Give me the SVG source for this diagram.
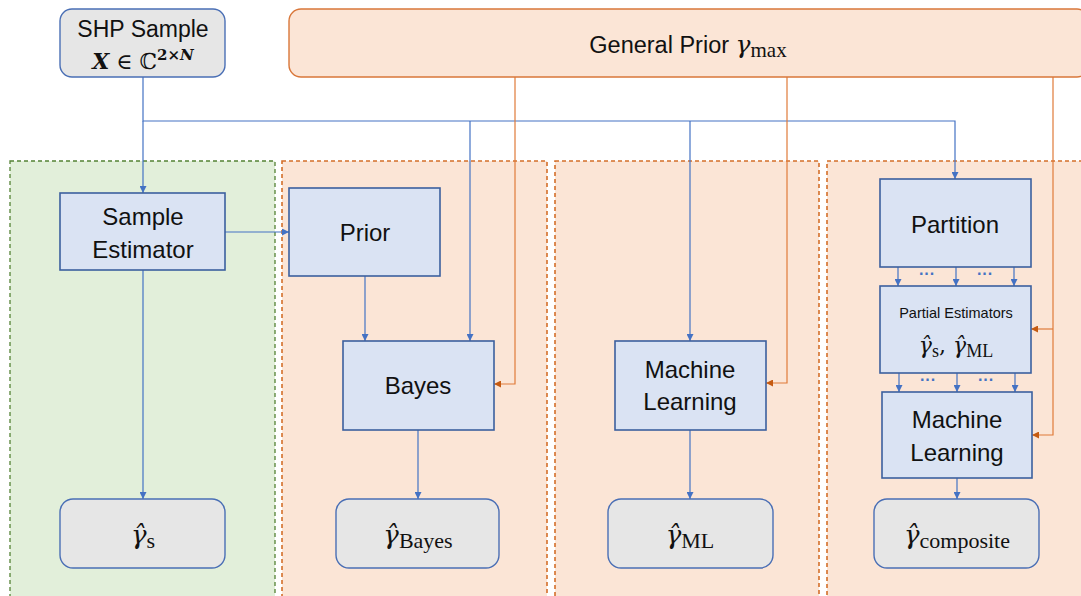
<svg xmlns="http://www.w3.org/2000/svg" width="1081" height="596" viewBox="0 0 1081 596">
<defs>
<style>
.panelG{fill:#e2efda;stroke:#548235;stroke-width:1.3;stroke-dasharray:4 3}
.panelO{fill:#fbe5d6;stroke:#d46f2a;stroke-width:1.6;stroke-dasharray:4 3}
.node{fill:#dae3f3;stroke:#3b5f9e;stroke-width:1.6}
.out{fill:#e6e6e6;stroke:#4a6fb5;stroke-width:1.4}
.prior{fill:#fbe5d6;stroke:#d9773a;stroke-width:1.4}
.t{font-family:"Liberation Sans",Arial,sans-serif;font-size:24px;fill:#111;text-anchor:middle}
.m{font-family:"DejaVu Serif","Liberation Serif",serif;fill:#111}
.sub{font-family:"Liberation Serif","Times New Roman",serif;fill:#111}
.cb{stroke:#4472c4;stroke-width:1.2;fill:none}
.co{stroke:#e07b39;stroke-width:1.2;fill:none}
.dots{font-family:"Liberation Sans",Arial,sans-serif;font-size:16px;font-weight:bold;fill:#4472c4;text-anchor:middle}
</style>
<marker id="ab" viewBox="0 0 10 10" refX="10" refY="5" markerWidth="7" markerHeight="7" orient="auto" markerUnits="userSpaceOnUse"><path d="M0,0 L10,5 L0,10 z" fill="#4472c4"/></marker>
<marker id="ao" viewBox="0 0 10 10" refX="10" refY="5" markerWidth="7" markerHeight="7" orient="auto" markerUnits="userSpaceOnUse"><path d="M0,0 L10,5 L0,10 z" fill="#c55a11"/></marker>
</defs>

<g id="panels">
<rect class="panelG" x="10" y="161" width="265" height="440"/>
<rect class="panelO" x="282" y="161" width="265" height="440"/>
<rect class="panelO" x="555" y="161" width="264" height="440"/>
<rect class="panelO" x="827" y="161" width="260" height="440"/>
</g>

<g id="connectors">
<path class="cb" d="M143,77 V121 H955 V179" marker-end="url(#ab)"/>
<path class="cb" d="M143,121 V193" marker-end="url(#ab)"/>
<path class="cb" d="M470,121 V341" marker-end="url(#ab)"/>
<path class="cb" d="M690,121 V341" marker-end="url(#ab)"/>
<path class="cb" d="M225,232 H289" marker-end="url(#ab)"/>
<path class="cb" d="M365,276 V341" marker-end="url(#ab)"/>
<path class="cb" d="M143,270 V499" marker-end="url(#ab)"/>
<path class="cb" d="M418,430 V499" marker-end="url(#ab)"/>
<path class="cb" d="M690,430 V499" marker-end="url(#ab)"/>
<path class="cb" d="M957,478 V499" marker-end="url(#ab)"/>
<path class="cb" d="M898,267 V286" marker-end="url(#ab)"/>
<path class="cb" d="M956,267 V286" marker-end="url(#ab)"/>
<path class="cb" d="M1014,267 V286" marker-end="url(#ab)"/>
<path class="cb" d="M899,373 V392" marker-end="url(#ab)"/>
<path class="cb" d="M957,373 V392" marker-end="url(#ab)"/>
<path class="cb" d="M1015,373 V392" marker-end="url(#ab)"/>
<text class="dots" x="927" y="279">···</text>
<text class="dots" x="985" y="279">···</text>
<text class="dots" x="928" y="385">···</text>
<text class="dots" x="986" y="385">···</text>
<path class="co" d="M515,77 V384 H494" marker-end="url(#ao)"/>
<path class="co" d="M787,77 V383 H766" marker-end="url(#ao)"/>
<path class="co" d="M1053,77 V435 H1032" marker-end="url(#ao)"/>
<path class="co" d="M1053,329 H1031" marker-end="url(#ao)"/>
</g>

<g id="shp">
<rect class="out" x="60" y="9" width="165" height="68" rx="12"/>
<text class="t" x="143" y="37" style="font-size:23px">SHP Sample</text>
<text x="143" y="69" text-anchor="middle" class="m" style="font-size:22px"><tspan font-weight="bold" font-style="italic">X</tspan> ∈ ℂ<tspan style="font-size:15px" dy="-9" font-weight="bold">2×<tspan font-style="italic">N</tspan></tspan></text>
</g>

<g id="general-prior">
<rect class="prior" x="289" y="9" width="800" height="68" rx="12"/>
<text x="688" y="53" text-anchor="middle"><tspan class="t" style="font-size:23.5px">General Prior </tspan><tspan class="m" style="font-size:25px" font-style="italic">γ</tspan><tspan class="sub" style="font-size:21px" dy="4">max</tspan></text>
</g>

<g id="sample-estimator">
<rect class="node" x="60" y="193" width="165" height="77"/>
<text class="t" x="143" y="225">Sample</text>
<text class="t" x="143" y="258">Estimator</text>
</g>

<g id="prior">
<rect class="node" x="289" y="188" width="151" height="88"/>
<text class="t" x="365" y="241">Prior</text>
</g>

<g id="bayes">
<rect class="node" x="343" y="341" width="151" height="89"/>
<text class="t" x="418" y="394">Bayes</text>
</g>

<g id="ml">
<rect class="node" x="615" y="341" width="151" height="89"/>
<text class="t" x="690" y="378">Machine</text>
<text class="t" x="690" y="410">Learning</text>
</g>

<g id="partition">
<rect class="node" x="880" y="179" width="151" height="88"/>
<text class="t" x="955" y="233">Partition</text>
</g>

<g id="partial-estimators">
<rect class="node" x="880" y="286" width="151" height="87"/>
<text class="t" x="956" y="318" style="font-size:14.5px">Partial Estimators</text>
<text x="956" y="353" text-anchor="middle" class="m" style="font-size:22px"><tspan font-style="italic">γ̂</tspan><tspan class="sub" style="font-size:18px" dy="4">s</tspan><tspan dy="-4">, </tspan><tspan font-style="italic">γ̂</tspan><tspan class="sub" style="font-size:18px" dy="4">ML</tspan></text>
</g>

<g id="ml-composite">
<rect class="node" x="882" y="392" width="150" height="86"/>
<text class="t" x="957" y="428">Machine</text>
<text class="t" x="957" y="461">Learning</text>
</g>

<g id="out-s">
<rect class="out" x="60" y="499" width="165" height="69" rx="13"/>
<text x="143" y="544" text-anchor="middle" class="m" style="font-size:26px"><tspan font-style="italic">γ̂</tspan><tspan class="sub" style="font-size:22px" dy="4">s</tspan></text>
</g>
<g id="out-bayes">
<rect class="out" x="336" y="499" width="163" height="69" rx="13"/>
<text x="418" y="544" text-anchor="middle" class="m" style="font-size:26px"><tspan font-style="italic">γ̂</tspan><tspan class="sub" style="font-size:22px" dy="4">Bayes</tspan></text>
</g>
<g id="out-ml">
<rect class="out" x="608" y="499" width="165" height="69" rx="13"/>
<text x="690" y="544" text-anchor="middle" class="m" style="font-size:26px"><tspan font-style="italic">γ̂</tspan><tspan class="sub" style="font-size:22px" dy="4">ML</tspan></text>
</g>
<g id="out-composite">
<rect class="out" x="874" y="499" width="165" height="69" rx="13"/>
<text x="957" y="544" text-anchor="middle" class="m" style="font-size:26px"><tspan font-style="italic">γ̂</tspan><tspan class="sub" style="font-size:22px" dy="4">composite</tspan></text>
</g>
</svg>
